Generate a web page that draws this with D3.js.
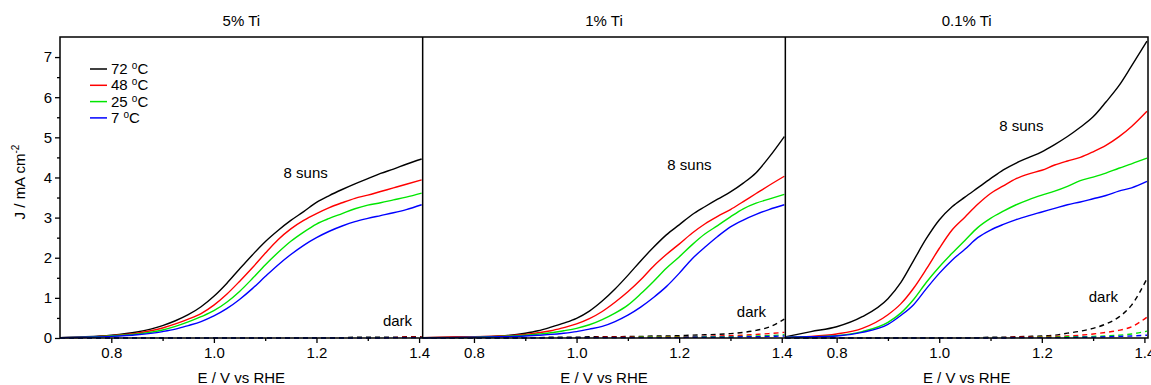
<!DOCTYPE html>
<html>
<head>
<meta charset="utf-8">
<script src="https://cdn.jsdelivr.net/npm/d3@7"></script>
<style>
  body { margin: 0; background: #fff; }
  text { font-family: "Liberation Sans", Arial, sans-serif; fill: #000; }
</style>
</head>
<body>
<div class="chart"></div>
<script>
// potential grid (V vs RHE), shared by every curve
var potential = [0.70, 0.75, 0.80, 0.85, 0.90, 0.925, 0.95, 0.975, 1.00, 1.025, 1.05, 1.075, 1.10,
  1.125, 1.15, 1.175, 1.20, 1.225, 1.25, 1.275, 1.30, 1.325, 1.35, 1.375, 1.405];

var panelNames = ["5% Ti", "1% Ti", "0.1% Ti"];
var tempValues = ["72", "48", "25", "7"];
var xTicks = [0.8, 1.0, 1.2, 1.4];
var xMinor = [0.9, 1.1, 1.3];
var yTicks = [0, 1, 2, 3, 4, 5, 6, 7];
var yMinor = [0.5, 1.5, 2.5, 3.5, 4.5, 5.5, 6.5];

// 8 suns, 5% Ti
var ti5_72 = [0.01, 0.03, 0.07, 0.15, 0.31, 0.43, 0.58, 0.78, 1.04, 1.36, 1.72, 2.07, 2.40, 2.68, 2.93, 3.15, 3.38, 3.55, 3.70, 3.84, 3.97, 4.10, 4.21, 4.33, 4.46];
var ti5_48 = [0.01, 0.02, 0.06, 0.12, 0.25, 0.35, 0.47, 0.61, 0.82, 1.09, 1.41, 1.75, 2.11, 2.45, 2.72, 2.93, 3.10, 3.25, 3.37, 3.48, 3.56, 3.65, 3.74, 3.83, 3.94];
var ti5_25 = [0.01, 0.02, 0.05, 0.10, 0.20, 0.29, 0.40, 0.53, 0.68, 0.89, 1.16, 1.48, 1.82, 2.13, 2.41, 2.64, 2.84, 2.98, 3.10, 3.22, 3.31, 3.37, 3.44, 3.51, 3.61];
var ti5_7  = [0.01, 0.02, 0.04, 0.08, 0.16, 0.22, 0.31, 0.41, 0.55, 0.73, 0.96, 1.23, 1.53, 1.82, 2.08, 2.31, 2.50, 2.66, 2.79, 2.90, 2.98, 3.05, 3.12, 3.20, 3.32];

// 8 suns, 1% Ti
var ti1_72 = [0.01, 0.02, 0.03, 0.05, 0.12, 0.18, 0.27, 0.37, 0.49, 0.67, 0.92, 1.22, 1.56, 1.92, 2.26, 2.57, 2.82, 3.07, 3.27, 3.46, 3.64, 3.86, 4.12, 4.50, 5.02];
var ti1_48 = [0.01, 0.02, 0.03, 0.05, 0.09, 0.13, 0.18, 0.26, 0.35, 0.48, 0.66, 0.89, 1.15, 1.45, 1.79, 2.08, 2.34, 2.61, 2.84, 3.03, 3.20, 3.40, 3.60, 3.80, 4.03];
var ti1_25 = [0.01, 0.01, 0.02, 0.04, 0.07, 0.10, 0.13, 0.18, 0.24, 0.33, 0.46, 0.62, 0.82, 1.10, 1.41, 1.74, 2.02, 2.32, 2.59, 2.80, 3.02, 3.22, 3.36, 3.46, 3.58];
var ti1_7  = [0.00, 0.01, 0.02, 0.03, 0.05, 0.07, 0.09, 0.12, 0.16, 0.22, 0.29, 0.41, 0.57, 0.77, 1.01, 1.28, 1.61, 1.97, 2.26, 2.53, 2.77, 2.94, 3.08, 3.20, 3.32];

// 8 suns, 0.1% Ti
var ti01_72 = [0.03, 0.16, 0.28, 0.53, 0.98, 1.38, 1.93, 2.48, 2.94, 3.27, 3.51, 3.74, 3.97, 4.19, 4.36, 4.50, 4.64, 4.82, 5.02, 5.25, 5.51, 5.88, 6.28, 6.78, 7.40];
var ti01_48 = [0.02, 0.04, 0.10, 0.24, 0.58, 0.85, 1.24, 1.72, 2.23, 2.69, 3.01, 3.33, 3.60, 3.79, 3.97, 4.09, 4.18, 4.31, 4.41, 4.50, 4.64, 4.80, 5.01, 5.27, 5.65];
var ti01_25 = [0.02, 0.03, 0.06, 0.16, 0.39, 0.62, 0.96, 1.39, 1.77, 2.11, 2.43, 2.75, 2.98, 3.16, 3.32, 3.45, 3.56, 3.66, 3.78, 3.92, 4.01, 4.11, 4.23, 4.34, 4.48];
var ti01_7  = [0.02, 0.03, 0.05, 0.14, 0.34, 0.56, 0.83, 1.23, 1.61, 1.94, 2.21, 2.50, 2.69, 2.83, 2.95, 3.05, 3.14, 3.23, 3.32, 3.39, 3.47, 3.55, 3.66, 3.74, 3.90];

// dark currents
var d5_72 = [0, 0, 0, 0, 0, 0, 0, 0, 0, 0, 0, 0, 0.01, 0.01, 0.01, 0.01, 0.01, 0.01, 0.01, 0.02, 0.02, 0.02, 0.02, 0.03, 0.03];
var d5_48 = [0, 0, 0, 0, 0, 0, 0, 0, 0, 0, 0, 0, 0, 0, 0, 0, 0.01, 0.01, 0.01, 0.01, 0.01, 0.01, 0.01, 0.02, 0.02];
var d5_25 = [0, 0, 0, 0, 0, 0, 0, 0, 0, 0, 0, 0, 0, 0, 0, 0, 0, 0, 0, 0.01, 0.01, 0.01, 0.01, 0.01, 0.01];
var d5_7  = [0, 0, 0, 0, 0, 0, 0, 0, 0, 0, 0, 0, 0, 0, 0, 0, 0, 0, 0, 0, 0, 0, 0.01, 0.01, 0.01];

var d1_72 = [0, 0.01, 0.01, 0.01, 0.01, 0.01, 0.02, 0.02, 0.02, 0.03, 0.03, 0.03, 0.04, 0.04, 0.05, 0.05, 0.06, 0.07, 0.08, 0.09, 0.11, 0.14, 0.19, 0.27, 0.47];
var d1_48 = [0, 0, 0, 0.01, 0.01, 0.01, 0.01, 0.01, 0.01, 0.01, 0.02, 0.02, 0.02, 0.02, 0.02, 0.03, 0.03, 0.03, 0.04, 0.05, 0.06, 0.07, 0.09, 0.11, 0.14];
var d1_25 = [0, 0, 0, 0, 0.01, 0.01, 0.01, 0.01, 0.01, 0.01, 0.01, 0.01, 0.01, 0.02, 0.02, 0.02, 0.02, 0.02, 0.03, 0.03, 0.03, 0.04, 0.05, 0.06, 0.08];
var d1_7  = [0, 0, 0, 0, 0, 0, 0, 0, 0.01, 0.01, 0.01, 0.01, 0.01, 0.01, 0.01, 0.01, 0.01, 0.02, 0.02, 0.02, 0.02, 0.03, 0.03, 0.04, 0.05];

var d01_72 = [0, 0, 0, 0, 0, 0, 0, 0, 0.01, 0.01, 0.01, 0.01, 0.02, 0.02, 0.03, 0.04, 0.05, 0.07, 0.12, 0.17, 0.24, 0.35, 0.52, 0.82, 1.48];
var d01_48 = [0, 0, 0, 0, 0, 0, 0, 0, 0, 0, 0.01, 0.01, 0.01, 0.01, 0.02, 0.02, 0.03, 0.04, 0.05, 0.07, 0.10, 0.14, 0.19, 0.28, 0.52];
var d01_25 = [0, 0, 0, 0, 0, 0, 0, 0, 0, 0, 0, 0, 0.01, 0.01, 0.01, 0.01, 0.02, 0.02, 0.03, 0.03, 0.04, 0.05, 0.07, 0.10, 0.17];
var d01_7  = [0, 0, 0, 0, 0, 0, 0, 0, 0, 0, 0, 0, 0, 0, 0.01, 0.01, 0.01, 0.01, 0.01, 0.02, 0.02, 0.03, 0.04, 0.05, 0.07];

// annotation anchors in data coordinates (V, J)
var sunsLabel = [[1.179, 3.98], [1.22, 4.18], [1.16, 5.15]];
var darkLabel = [[1.358, 0.30], [1.341, 0.52], [1.32, 0.90]];

var lightSets = [[ti5_72, ti5_48, ti5_25, ti5_7], [ti1_72, ti1_48, ti1_25, ti1_7], [ti01_72, ti01_48, ti01_25, ti01_7]];
var darkSets = [[d5_72, d5_48, d5_25, d5_7], [d1_72, d1_48, d1_25, d1_7], [d01_72, d01_48, d01_25, d01_7]];
var lineColors = ["#000000", "#ff0000", "#00e600", "#0000ff"];

var values = { width: 1151, height: 385, left: 60, right: 3, top: 37, bottom: 47 };
var fontSize = 15;
var plotW = values.width - values.left - values.right;
var panelW = plotW / 3;
var plotBottom = values.height - values.bottom;

var svg = d3.select(".chart").append("svg")
  .attr("width", values.width)
  .attr("height", values.height);

var y = d3.scaleLinear().domain([0, 7.5]).range([plotBottom, values.top]);

panelNames.forEach(function (name, p) {
  var x0 = values.left + p * panelW;
  var x = d3.scaleLinear().domain([0.7, 1.407]).range([0, panelW]);
  var g = svg.append("g").attr("transform", "translate(" + x0 + ",0)");

  var line = d3.line()
    .x(function (d, i) { return x(potential[i]); })
    .y(function (d) { return y(d); })
    .curve(d3.curveMonotoneX);

  // light curves
  lightSets[p].forEach(function (series, k) {
    g.append("path")
      .attr("d", line(series))
      .attr("fill", "none")
      .attr("stroke", lineColors[k])
      .attr("stroke-width", 1.4);
  });

  // dark curves, dashed
  darkSets[p].forEach(function (series, k) {
    g.append("path")
      .attr("d", line(series))
      .attr("fill", "none")
      .attr("stroke", lineColors[k])
      .attr("stroke-width", 1.4)
      .attr("stroke-dasharray", "5,4");
  });

  // x axis, major and minor ticks
  var xa = g.append("g")
    .attr("transform", "translate(0," + plotBottom + ")")
    .call(d3.axisBottom(x).tickValues(xTicks).tickFormat(d3.format(".1f")).tickSize(5).tickSizeOuter(0).tickPadding(4));
  xa.select(".domain").remove();
  xa.selectAll("text").attr("font-size", fontSize).attr("font-family", "Liberation Sans, Arial, sans-serif");
  xa.selectAll("line").attr("stroke-width", 1.3);

  var xm = g.append("g")
    .attr("transform", "translate(0," + plotBottom + ")")
    .call(d3.axisBottom(x).tickValues(xMinor).tickFormat("").tickSize(3).tickSizeOuter(0));
  xm.select(".domain").remove();
  xm.selectAll("line").attr("stroke-width", 1.3);

  // titles
  g.append("text")
    .attr("x", panelW / 2)
    .attr("y", 26)
    .attr("text-anchor", "middle")
    .attr("font-size", fontSize)
    .text(name);

  g.append("text")
    .attr("x", panelW / 2)
    .attr("y", 383)
    .attr("text-anchor", "middle")
    .attr("font-size", fontSize)
    .text("E / V vs RHE");

  g.append("text")
    .attr("x", x(sunsLabel[p][0]))
    .attr("y", y(sunsLabel[p][1]))
    .attr("text-anchor", "middle")
    .attr("font-size", fontSize)
    .text("8 suns");

  g.append("text")
    .attr("x", x(darkLabel[p][0]))
    .attr("y", y(darkLabel[p][1]))
    .attr("text-anchor", "middle")
    .attr("font-size", fontSize)
    .text("dark");
});

// y axis on the first panel
var ya = svg.append("g")
  .attr("transform", "translate(" + values.left + ",0)")
  .call(d3.axisLeft(y).tickValues(yTicks).tickSize(5).tickSizeOuter(0).tickPadding(3));
ya.select(".domain").remove();
ya.selectAll("text").attr("font-size", fontSize).attr("font-family", "Liberation Sans, Arial, sans-serif");
ya.selectAll("line").attr("stroke-width", 1.3);

var ym = svg.append("g")
  .attr("transform", "translate(" + values.left + ",0)")
  .call(d3.axisLeft(y).tickValues(yMinor).tickFormat("").tickSize(3).tickSizeOuter(0));
ym.select(".domain").remove();
ym.selectAll("line").attr("stroke-width", 1.3);

var yLabel = svg.append("text")
  .attr("transform", "rotate(-90)")
  .attr("x", -182)
  .attr("y", 25)
  .attr("text-anchor", "middle")
  .attr("font-size", fontSize);
yLabel.append("tspan").text("J / mA cm");
yLabel.append("tspan").attr("font-size", 10).attr("dy", -6).text("-2");

// frame
svg.append("rect")
  .attr("x", values.left)
  .attr("y", values.top)
  .attr("width", plotW)
  .attr("height", plotBottom - values.top)
  .attr("fill", "none")
  .attr("stroke", "#000")
  .attr("stroke-width", 1.5);

[1, 2].forEach(function (p) {
  svg.append("line")
    .attr("x1", values.left + p * panelW)
    .attr("x2", values.left + p * panelW)
    .attr("y1", values.top)
    .attr("y2", plotBottom)
    .attr("stroke", "#000")
    .attr("stroke-width", 1.5);
});

// legend
var legend = svg.append("g").attr("transform", "translate(90,69)");
tempValues.forEach(function (t, k) {
  legend.append("line")
    .attr("x1", 0).attr("x2", 17)
    .attr("y1", k * 16.3).attr("y2", k * 16.3)
    .attr("stroke", lineColors[k])
    .attr("stroke-width", 1.5);
  var lt = legend.append("text")
    .attr("x", 21)
    .attr("y", k * 16.3 + 5)
    .attr("font-size", fontSize);
  lt.append("tspan").text(t + " ");
  lt.append("tspan").attr("font-size", 10).attr("dy", -5).text("o");
  lt.append("tspan").attr("dy", 5).text("C");
});
</script>
</body>
</html>
